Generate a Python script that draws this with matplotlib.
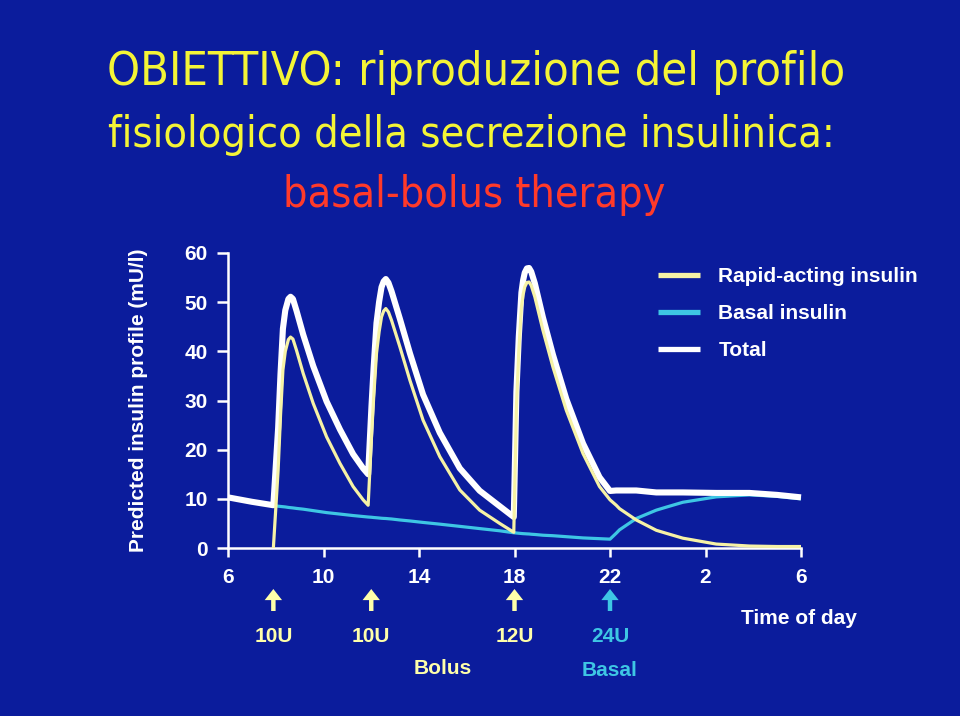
import numpy as np
import matplotlib
matplotlib.use('Agg')
import matplotlib.pyplot as plt
import matplotlib.transforms as mtransforms

BG = '#0B1C9C'
RAPID_COL = '#F6F2A6'
BASAL_COL = '#3EC6E4'
TOTAL_COL = 'white'
ARROW_YEL = '#FFFFAA'
TITLE_YEL = '#F4F436'
TITLE_RED = '#FF3A2A'

# time of day in hours (after 24 -> next day)
hours = [6, 7, 7.9, 8.1, 8.2, 8.3, 8.4, 8.53, 8.62, 8.72, 8.87, 9.15, 9.57, 10.13,
         10.69, 11.24, 11.66, 11.87,
         12.01, 12.1, 12.22, 12.33, 12.43, 12.52, 12.61, 12.72, 12.85, 13.2, 13.62,
         14.17, 14.87, 15.71, 16.54, 17.38, 17.97,
         18.08, 18.18, 18.29, 18.36, 18.43, 18.52, 18.61, 18.7, 18.85, 19.19, 19.61,
         20.17, 20.87, 21.56, 22.0, 22.26, 22.4, 23.1, 23.94,
         24.35, 25.05, 26.45, 27.84, 29.0, 30.0]
rapid = [0, 0, 0, 15.9, 27.0, 36.2, 40.0, 42.4, 42.9, 42.5, 40.2, 35.5, 29.4, 22.6,
         17.2, 12.5, 9.8, 8.7,
         22.6, 30.5, 39.6, 44.0, 47.0, 48.2, 48.7, 48.0, 46.3, 40.9, 34.1,
         26.0, 18.6, 11.8, 7.7, 5.0, 3.2,
         28.7, 40.0, 49.0, 51.5, 53.1, 54.0, 54.1, 53.4, 51.1, 44.3, 36.8,
         28.0, 19.2, 12.5, 9.8, 8.7, 8.0, 5.7, 3.6,
         3.0, 2.0, 0.8, 0.4, 0.3, 0.3]
basal = [10.3, 9.4, 8.7, 8.5, 8.45, 8.4, 8.35, 8.25, 8.2, 8.15, 8.05, 7.9, 7.6, 7.2,
         6.9, 6.6, 6.4, 6.3,
         6.25, 6.2, 6.15, 6.1, 6.05, 6.02, 6.0, 5.95, 5.9, 5.7, 5.5,
         5.2, 4.85, 4.4, 3.95, 3.5, 3.1,
         3.05, 3.0, 2.95, 2.92, 2.9, 2.87, 2.85, 2.8, 2.75, 2.6, 2.5,
         2.3, 2.05, 1.9, 1.8, 3.0, 3.7, 6.0, 7.7,
         8.3, 9.3, 10.4, 10.8, 10.5, 10.0]
rapid_start = 7.9

tick_hours = [6, 10, 14, 18, 22, 26, 30]
tick_labels = ['6', '10', '14', '18', '22', '2', '6']
y_ticks = [0, 10, 20, 30, 40, 50, 60]

dose_hours = [7.9, 12.0, 18.0, 22.0]
dose_labels = ['10U', '10U', '12U', '24U']
dose_is_basal = [False, False, False, True]

title_lines = ['OBIETTIVO: riproduzione del profilo',
               'fisiologico della secrezione insulinica:',
               'basal-bolus therapy']

plt.rcParams['font.family'] = ['Liberation Sans', 'DejaVu Sans']
plt.rcParams['font.weight'] = 'bold'
plt.rcParams['font.size'] = 15

fig = plt.figure(figsize=(9.6, 7.16), dpi=100, facecolor=BG)

# title, sized afterwards to the widths of the reference lines
title_specs = [(title_lines[0], 476, 85, 738, TITLE_YEL),
               (title_lines[1], 471, 147, 728, TITLE_YEL),
               (title_lines[2], 474, 207, 382, TITLE_RED)]
title_texts = []
for txt, cx, base, wid, col in title_specs:
    t = fig.text(cx / 960, 1 - base / 716, txt, ha='center', va='baseline',
                 fontsize=30, color=col, family='DejaVu Sans',
                 fontstretch='condensed', fontweight='normal')
    title_texts.append((t, wid))

ax = fig.add_axes([228 / 960, 1 - 548 / 716, (801 - 228) / 960, (548 - 253) / 716])
ax.set_facecolor(BG)

h = np.array(hours)
r = np.array(rapid)
b = np.array(basal)
total = r + b  # total = rapid-acting + basal
r_drawn = np.where(h >= rapid_start, r, np.nan)

l_basal, = ax.plot(h, b, color=BASAL_COL, lw=2.3, zorder=2, clip_on=False,
                   solid_joinstyle='round', solid_capstyle='butt')
l_total, = ax.plot(h, total, color=TOTAL_COL, lw=4.4, zorder=3, clip_on=False,
                   solid_joinstyle='round', solid_capstyle='butt')
l_rapid, = ax.plot(h, r_drawn, color=RAPID_COL, lw=2.3, zorder=4, clip_on=False,
                   solid_joinstyle='round', solid_capstyle='butt')

ax.set_xlim(6, 30)
ax.set_ylim(0, 60)
ax.set_xticks(tick_hours)
ax.set_xticklabels(tick_labels)
ax.set_yticks(y_ticks)

for s in ['top', 'right']:
    ax.spines[s].set_visible(False)
for s in ['left', 'bottom']:
    ax.spines[s].set_color('white')
    ax.spines[s].set_linewidth(1.8)
ax.tick_params(axis='y', colors='white', length=8, width=1.8, pad=6.5, labelsize=15)
ax.tick_params(axis='x', colors='white', length=6.5, width=1.8, pad=8, labelsize=15)

ax.set_ylabel('Predicted insulin profile (mU/l)', color='white', fontsize=15,
              fontweight='bold')
ax.yaxis.set_label_coords(-(228 - 148) / 573, 0.5)

# dose arrows and labels under the axis
trans = mtransforms.blended_transform_factory(ax.transData, ax.transAxes)
for t, lab, is_basal in zip(dose_hours, dose_labels, dose_is_basal):
    col = BASAL_COL if is_basal else ARROW_YEL
    ax.annotate('', xy=(t, -(589 - 548) / 295), xytext=(t, -(611 - 548) / 295),
                xycoords=trans, textcoords=trans, annotation_clip=False,
                arrowprops=dict(arrowstyle='simple,head_width=1.25,head_length=0.8,tail_width=0.32',
                                mutation_scale=10, color=col, shrinkA=0, shrinkB=0, lw=0))
    ax.text(t, -(636 - 548) / 295, lab, transform=trans, ha='center', va='center',
            color=col, fontsize=15, fontweight='bold')

ax.text(15.0, -(668 - 548) / 295, 'Bolus', transform=trans, ha='center', va='center',
        color=ARROW_YEL, fontsize=15, fontweight='bold')
ax.text(22.0, -(670 - 548) / 295, 'Basal', transform=trans, ha='center', va='center',
        color=BASAL_COL, fontsize=15, fontweight='bold')
ax.text(29.9, -(618 - 548) / 295, 'Time of day', transform=trans, ha='center', va='center',
        color='white', fontsize=15, fontweight='bold')

leg = fig.legend([l_rapid, l_basal, l_total],
                 ['Rapid-acting insulin', 'Basal insulin', 'Total'],
                 loc='upper left', bbox_to_anchor=(658 / 960, 1 - 267 / 716),
                 bbox_transform=fig.transFigure, frameon=False, borderaxespad=0,
                 borderpad=0, handlelength=2.0, handletextpad=0.9, labelspacing=0.86,
                 prop={'family': 'Liberation Sans', 'weight': 'bold', 'size': 15})
for line in leg.get_lines():
    line.set_linewidth(3.8)
for txt in leg.get_texts():
    txt.set_color('white')

fig.canvas.draw()
renderer = fig.canvas.get_renderer()
for t, wid in title_texts:
    w = t.get_window_extent(renderer).width
    t.set_fontsize(t.get_fontsize() * wid / w)

fig.savefig('out.png', dpi=100, facecolor=BG)
